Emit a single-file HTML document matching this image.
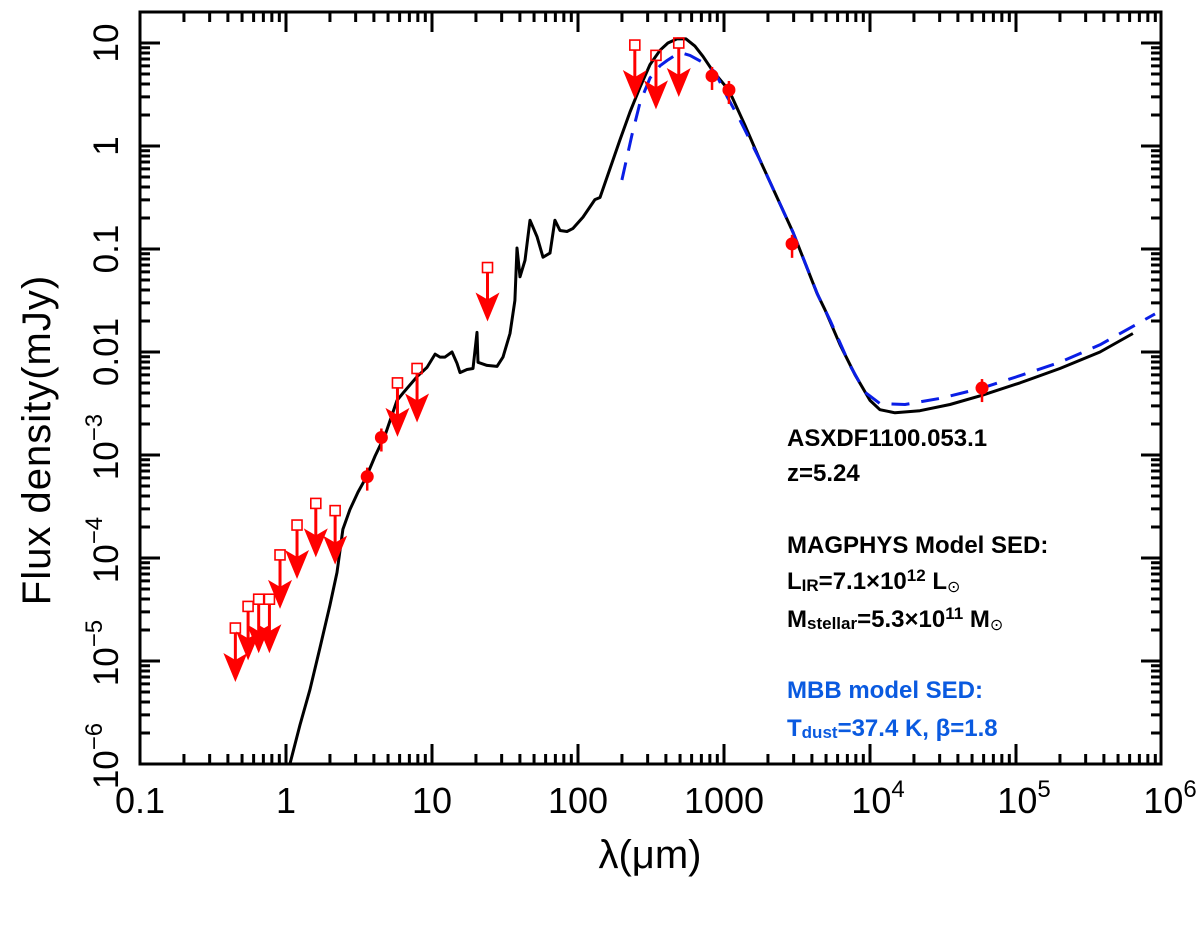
<!DOCTYPE html>
<html><head><meta charset="utf-8"><style>
html,body{margin:0;padding:0;background:#fff;}
svg{display:block;font-family:"Liberation Sans",Arial,sans-serif;}
</style></head><body>
<svg id="chart" width="1200" height="926" viewBox="0 0 1200 926" xmlns="http://www.w3.org/2000/svg">
<g id="plot"></g>
<g id="axes"></g>
<g font-weight="bold" font-size="24">
<text x="787" y="446">ASXDF1100.053.1</text>
<text x="787" y="481">z=5.24</text>
<text x="787" y="553">MAGPHYS Model SED:</text>
<text x="787" y="589">L<tspan font-size="17" dy="2">IR</tspan><tspan dy="-2">=7.1×10</tspan><tspan font-size="17" dy="-8">12</tspan><tspan dy="8"> L</tspan><tspan font-size="16" font-weight="normal" dy="3">⊙</tspan></text>
<text x="787" y="627">M<tspan font-size="17" dy="2">stellar</tspan><tspan dy="-2">=5.3×10</tspan><tspan font-size="17" dy="-8">11</tspan><tspan dy="8"> M</tspan><tspan font-size="16" font-weight="normal" dy="3">⊙</tspan></text>
<text x="787" y="698" fill="#0a5ae0">MBB model SED:</text>
<text x="787" y="736" fill="#0a5ae0">T<tspan font-size="17" dy="2">dust</tspan><tspan dy="-2">=37.4 K, β=1.8</tspan></text>
</g>
<text x="650" y="868" font-size="40" text-anchor="middle">λ(μm)</text>
<text transform="translate(50,440) rotate(-90)" font-size="40" text-anchor="middle" letter-spacing="1">Flux density(mJy)</text>
</svg>
<script>
// log10(lambda/um) and log10(F/mJy)
const magLogLam=[0.027,0.096,0.164,0.233,0.301,0.349,0.390,0.438,0.493,0.548,0.610,0.678,0.760,0.801,0.897,0.966,1.021,1.055,1.089,1.137,1.171,1.192,1.240,1.281,1.308,1.315,1.377,1.445,1.486,1.534,1.568,1.582,1.603,1.637,1.671,1.719,1.760,1.808,1.842,1.877,1.925,1.966,2.034,2.116,2.151,2.288,2.356,2.425,2.493,2.562,2.616,2.678,2.740,2.801,2.856,2.918,3.034,3.144,3.247,3.473,3.637,3.692,3.795,3.897,4.0,4.068,4.171,4.342,4.548,4.767,5.027,5.301,5.575,5.801];
const magLogF=[-6.0,-5.62,-5.28,-4.87,-4.46,-4.14,-3.72,-3.53,-3.36,-3.22,-3.01,-2.81,-2.47,-2.40,-2.24,-2.15,-2.02,-2.05,-2.05,-2.00,-2.11,-2.20,-2.17,-2.16,-1.81,-2.10,-2.13,-2.14,-2.05,-1.82,-1.50,-0.99,-1.27,-1.11,-0.72,-0.88,-1.08,-1.04,-0.72,-0.82,-0.83,-0.80,-0.69,-0.52,-0.50,0.06,0.33,0.57,0.79,0.93,1.00,1.04,1.04,0.97,0.87,0.74,0.54,0.20,-0.14,-0.84,-1.43,-1.59,-1.93,-2.22,-2.47,-2.56,-2.59,-2.57,-2.51,-2.42,-2.30,-2.16,-2.00,-1.82];
const mbbLogLam=[2.301,2.370,2.425,2.493,2.562,2.610,2.664,2.719,2.767,2.856,2.938,3.021,3.110,3.247,3.473,3.644,3.726,3.863,3.966,4.068,4.240,4.479,4.767,5.027,5.301,5.575,5.952];
const mbbLogF=[-0.33,0.11,0.42,0.66,0.78,0.83,0.88,0.90,0.88,0.81,0.72,0.48,0.25,-0.14,-0.84,-1.45,-1.69,-2.13,-2.39,-2.50,-2.51,-2.45,-2.35,-2.23,-2.10,-1.93,-1.63];
const limLam=[0.45,0.55,0.65,0.77,0.91,1.19,1.6,2.17,5.8,7.9,24,245,342,490];
const limLogF=[-4.68,-4.47,-4.40,-4.40,-3.97,-3.68,-3.47,-3.54,-2.30,-2.16,-1.18,0.98,0.88,1.0];
const detLam=[3.6,4.5,828,1081,2925,58500];
const detLogF=[-3.21,-2.83,0.68,0.544,-0.95,-2.35];
const xTickExp=[-1,0,1,2,3,4,5,6];
const xTickLabels=["0.1","1","10","100","1000","10|4","10|5","10|6"];
const yTickExp=[1,0,-1,-2,-3,-4,-5,-6];
const yTickLabels=["10","1","0.1","0.01","10|−3","10|−4","10|−5","10|−6"];

const L=140,R=1161,T=12,B=764;
const X=lg=>L+(lg+1)*146;
const Y=lg=>43+(1-lg)*103;
const NS="http://www.w3.org/2000/svg";
function mk(tag,attrs,parent){const e=document.createElementNS(NS,tag);for(const k in attrs)e.setAttribute(k,attrs[k]);parent.appendChild(e);return e;}
const plot=document.getElementById('plot'),axes=document.getElementById('axes');

let d=magLogLam.map((v,i)=>(i?'L':'M')+X(v).toFixed(1)+' '+Y(magLogF[i]).toFixed(1)).join(' ');
const mag=mk('path',{d:d,fill:'none',stroke:'#000','stroke-width':3,'stroke-linejoin':'round'},plot);


d=mbbLogLam.map((v,i)=>(i?'L':'M')+X(v).toFixed(1)+' '+Y(mbbLogF[i]).toFixed(1)).join(' ');
const mbb=mk('path',{d:d,fill:'none',stroke:'#0a1ee6','stroke-width':3,'stroke-dasharray':'18 12','stroke-linejoin':'round'},plot);



limLam.forEach((l,i)=>{
  const x=X(Math.log10(l)),y=Y(limLogF[i]);
  const g=mk('g',{fill:'none',stroke:'#f00'},plot);
  
  
  mk('rect',{x:x-5,y:y-5,width:10,height:10,'stroke-width':1.6},g);
  mk('line',{x1:x,y1:y+5,x2:x,y2:y+40,'stroke-width':3},g);
  mk('path',{d:`M${x-12} ${y+25} L${x} ${y+32} L${x+12} ${y+25} L${x} ${y+54} Z`,fill:'#f00',stroke:'none'},g);
});
detLam.forEach((l,i)=>{
  const x=X(Math.log10(l)),y=Y(detLogF[i]);
  const g=mk('g',{},plot);
  
  
  mk('line',{x1:x,y1:y-9,x2:x,y2:y+14,stroke:'#f00','stroke-width':2.5},g);
  mk('circle',{cx:x,cy:y,r:6.5,fill:'#f00'},g);
});

const fr=mk('rect',{x:L,y:T,width:R-L,height:B-T,fill:'none',stroke:'#000','stroke-width':3},axes);


function ticks(){
  let s='';
  for(let e=-1;e<6;e++)for(let m=1;m<10;m++){const x=X(e+Math.log10(m));const len=m==1?20:10;
    s+=`M${x} ${B}V${B-len}M${x} ${T}V${T+len}`;}
  for(let e=-7;e<2;e++)for(let m=1;m<10;m++){const y=Y(e+Math.log10(m));if(y<T||y>B)continue;const len=m==1?20:10;
    s+=`M${L} ${y}H${L+len}M${R} ${y}H${R-len}`;}
  return s;
}
const tk=mk('path',{d:ticks(),stroke:'#000','stroke-width':3,fill:'none'},axes);



function label(parent,str){
  const p=str.split('|');
  const t=document.createTextNode(p[0]);parent.appendChild(t);
  if(p[1]){const s=mk('tspan',{dy:-16,'font-size':24},parent);s.textContent=p[1];}
}
xTickExp.forEach((e,i)=>{
  const t=mk('text',{x:X(e)+(xTickLabels[i].includes('|')?8:0),y:813,'font-size':36,'text-anchor':'middle'},axes);
  
  
  label(t,xTickLabels[i]);
});
yTickExp.forEach((e,i)=>{
  const y=Y(e)+(yTickLabels[i].includes('|')?-8:0);
  const t=mk('text',{transform:`translate(118,${y}) rotate(-90)`,'font-size':35,'text-anchor':'middle'},axes);
  
  
  label(t,yTickLabels[i]);
});
</script>
</body></html>
